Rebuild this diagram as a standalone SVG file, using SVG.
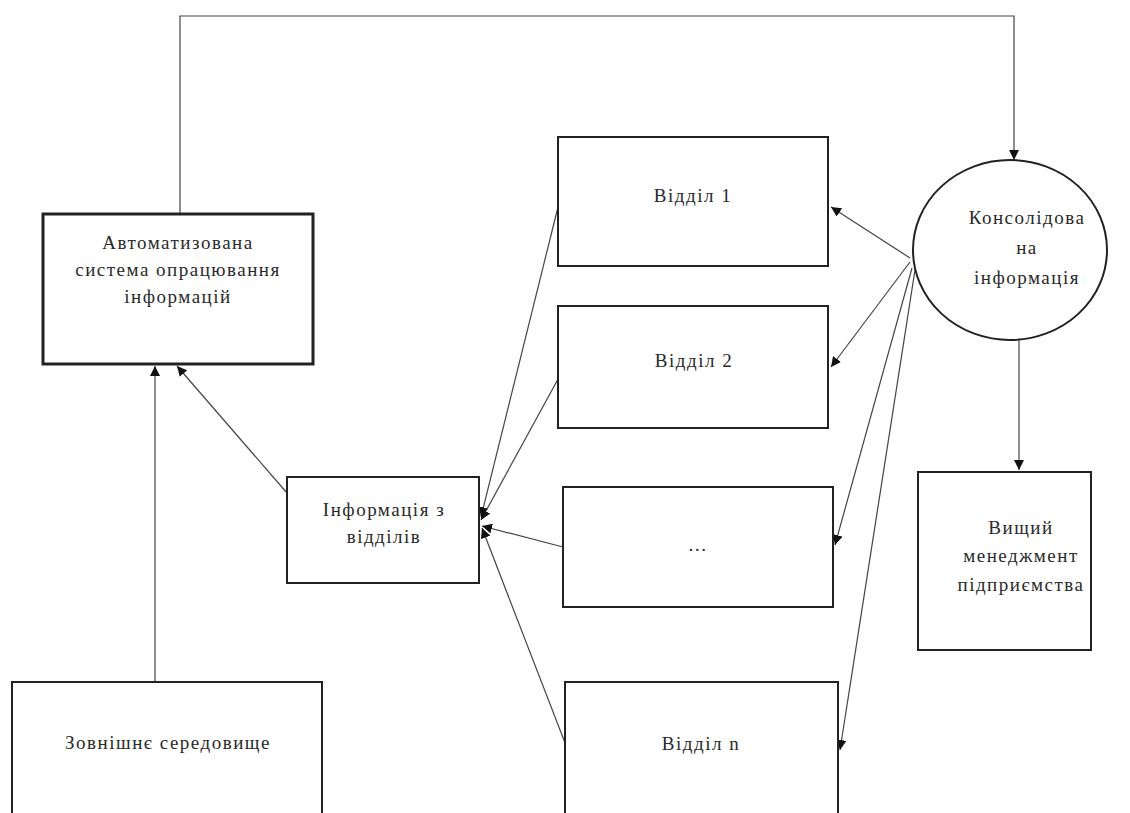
<svg xmlns="http://www.w3.org/2000/svg" width="1130" height="813" viewBox="0 0 1130 813">
<style>
.box{fill:#fff;stroke:#222;stroke-width:2}
.thick{stroke-width:3}
.t{font-family:"Liberation Serif","DejaVu Serif",serif;font-size:19px;letter-spacing:1.5px;fill:#2a2a2a;text-anchor:middle}
.c{fill:none;stroke:#444;stroke-width:1.2}
</style>
<defs>
<marker id="ah" viewBox="0 0 10 10" refX="10" refY="5" markerWidth="10" markerHeight="10" markerUnits="userSpaceOnUse" orient="auto">
<path d="M0,0 L10,5 L0,10 z" fill="#111"/>
</marker>
</defs>
<rect width="1130" height="813" fill="#fff"/>
<g id="connectors">
<polyline class="c" points="180,214 180,16 1014,16 1014,160" marker-end="url(#ah)"/>
<line class="c" x1="1019" y1="340" x2="1019" y2="470" marker-end="url(#ah)"/>
<line class="c" x1="910" y1="258" x2="831" y2="207" marker-end="url(#ah)"/>
<line class="c" x1="910" y1="262" x2="831" y2="367" marker-end="url(#ah)"/>
<line class="c" x1="912" y1="268" x2="835" y2="545" marker-end="url(#ah)"/>
<line class="c" x1="915" y1="270" x2="840" y2="750" marker-end="url(#ah)"/>
<line class="c" x1="558" y1="207" x2="481" y2="517" marker-end="url(#ah)"/>
<line class="c" x1="563" y1="370" x2="481" y2="520" marker-end="url(#ah)"/>
<line class="c" x1="563" y1="547" x2="482" y2="526" marker-end="url(#ah)"/>
<line class="c" x1="567" y1="748" x2="482" y2="528" marker-end="url(#ah)"/>
<line class="c" x1="287" y1="493" x2="177" y2="366" marker-end="url(#ah)"/>
<line class="c" x1="155" y1="682" x2="155" y2="366" marker-end="url(#ah)"/>
</g>
<g id="n-auto">
<rect class="box thick" x="43" y="214" width="270" height="150"/>
<text class="t" x="178" y="249">Автоматизована</text>
<text class="t" x="178" y="276">система опрацювання</text>
<text class="t" x="178" y="303">інформацій</text>
</g>
<g id="n-ext">
<rect class="box" x="12" y="682" width="310" height="140"/>
<text class="t" x="168" y="749">Зовнішнє середовище</text>
</g>
<g id="n-info">
<rect class="box" x="287" y="477" width="192" height="106"/>
<text class="t" x="384" y="516">Інформація з</text>
<text class="t" x="384" y="543">відділів</text>
</g>
<g id="n-d1">
<rect class="box" x="558" y="137" width="270" height="129"/>
<text class="t" x="693" y="202">Відділ 1</text>
</g>
<g id="n-d2">
<rect class="box" x="558" y="306" width="270" height="122"/>
<text class="t" x="694" y="367">Відділ 2</text>
</g>
<g id="n-d3">
<rect class="box" x="563" y="487" width="270" height="120"/>
<text class="t" x="698" y="551">…</text>
</g>
<g id="n-dn">
<rect class="box" x="565" y="682" width="273" height="140"/>
<text class="t" x="701" y="750">Відділ n</text>
</g>
<g id="n-cons">
<ellipse cx="1010" cy="250" rx="97" ry="90" fill="#fff" stroke="#222" stroke-width="2"/>
<text class="t" x="1027" y="224">Консолідова</text>
<text class="t" x="1027" y="254">на</text>
<text class="t" x="1027" y="284">інформація</text>
</g>
<g id="n-mgmt">
<rect class="box" x="918" y="472" width="173" height="178"/>
<text class="t" x="1021" y="534">Вищий</text>
<text class="t" x="1021" y="562">менеджмент</text>
<text class="t" x="1021" y="591">підприємства</text>
</g>
</svg>
